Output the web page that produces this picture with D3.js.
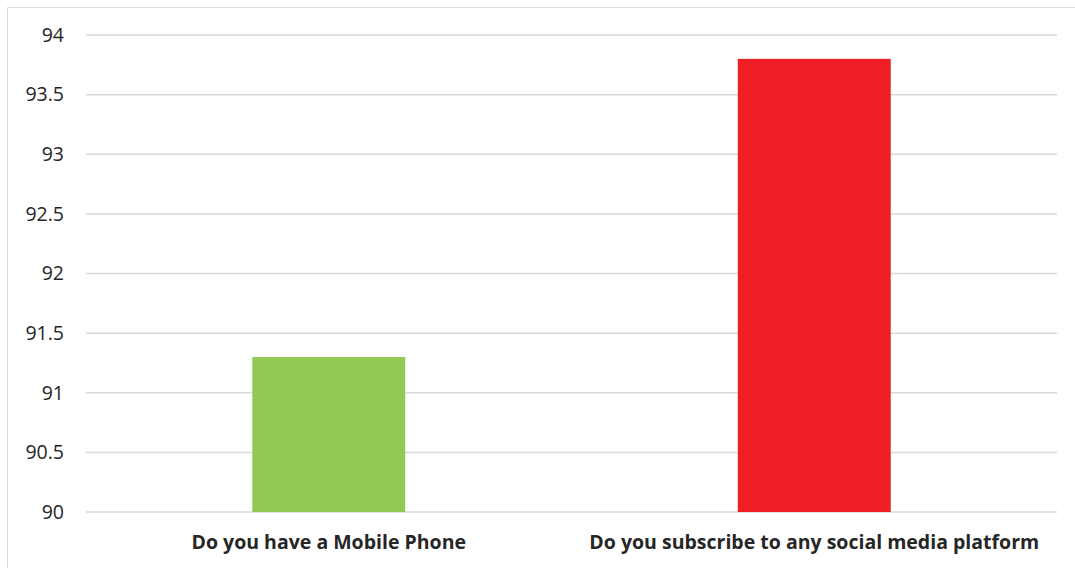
<!DOCTYPE html>
<html>
<head>
<meta charset="utf-8">
<script src="https://cdn.jsdelivr.net/npm/d3@7"></script>
<style>
  html, body { margin: 0; padding: 0; background: #fff; }
  svg { display: block; }
  text { font-family: "Open Sans", "Noto Sans", sans-serif; fill: #262626; }
</style>
</head>
<body>
<svg id="chart" width="1075" height="568"></svg>
<script>
// Survey responses (percent answering "yes")
const categories = ["Do you have a Mobile Phone", "Do you subscribe to any social media platform"];
const values = [91.3, 93.8];
const barColors = ["#92c853", "#ee1f24"];
const yTicks = [90, 90.5, 91, 91.5, 92, 92.5, 93, 93.5, 94];

const svg = d3.select("#chart");
const W = 1075, H = 568;
const margin = { top: 35, right: 18, bottom: 56, left: 86 };
const innerW = W - margin.left - margin.right;
const innerH = H - margin.top - margin.bottom;

// outer frame
svg.append("path")
  .attr("d", `M7.5,${H} V7.5 H${W}`)
  .attr("fill", "none")
  .attr("stroke", "#d9d9d9")
  .attr("stroke-width", 1);

const g = svg.append("g").attr("transform", `translate(${margin.left},${margin.top})`);

const x = d3.scaleBand().domain(categories).range([0, innerW]).paddingInner(0.685).paddingOuter(0.3425);
const y = d3.scaleLinear().domain([90, 94]).range([innerH, 0]);

// horizontal gridlines
g.append("g")
  .selectAll("line")
  .data(yTicks)
  .join("line")
  .attr("x1", 0)
  .attr("x2", innerW)
  .attr("y1", d => y(d))
  .attr("y2", d => y(d))
  .attr("stroke", "#d9d9d9")
  .attr("stroke-width", 1.5);

// y axis labels
const yAxis = g.append("g")
  .call(d3.axisLeft(y).tickValues(yTicks).tickSize(0).tickPadding(22).tickFormat(d3.format("~g")));
yAxis.select(".domain").remove();
yAxis.selectAll("text").style("font-size", "19.5px").attr("fill", "#262626");

// bars
g.append("g")
  .selectAll("rect")
  .data(categories)
  .join("rect")
  .attr("x", d => x(d))
  .attr("width", x.bandwidth())
  .attr("y", (d, i) => y(values[i]))
  .attr("height", (d, i) => y(90) - y(values[i]))
  .attr("fill", (d, i) => barColors[i]);

// category labels
const xAxis = g.append("g")
  .attr("transform", `translate(0,${innerH})`)
  .call(d3.axisBottom(x).tickSize(0).tickPadding(23));
xAxis.select(".domain").remove();
xAxis.selectAll("text")
  .style("font-size", "19.5px")
  .style("font-weight", "bold")
  .attr("fill", "#262626");
</script>
</body>
</html>
